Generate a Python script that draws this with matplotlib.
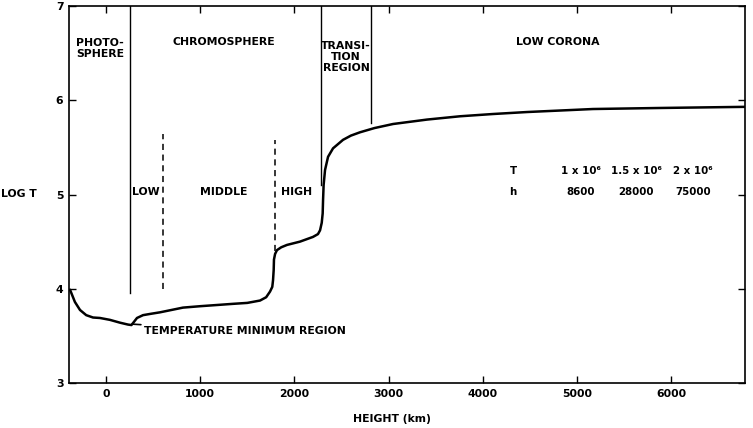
import matplotlib.pyplot as plt
import numpy as np

# temperature profile: height (km) vs log T
height = [-382, -330, -276, -210, -138, -64, 42, 149, 234, 270, 290, 329,
          393, 480, 573, 817, 1000, 1210, 1348, 1500, 1635, 1700, 1741, 1765,
          1773, 1780, 1783, 1795, 1815, 1860, 1921, 2059, 2197, 2250, 2272,
          2290, 2300, 2304, 2310, 2325, 2357, 2410, 2516, 2600, 2696, 2850,
          3047, 3408, 3758, 4108, 4469, 5170, 5881, 6783]
log_t = [3.99, 3.86, 3.775, 3.72, 3.695, 3.69, 3.67, 3.64, 3.62, 3.615,
         3.64, 3.69, 3.72, 3.735, 3.75, 3.80, 3.815, 3.83, 3.84, 3.85, 3.875,
         3.91, 3.97, 4.02, 4.09, 4.2, 4.31, 4.37, 4.41, 4.44, 4.465, 4.50,
         4.55, 4.58, 4.62, 4.70, 4.80, 4.94, 5.10, 5.26, 5.40, 5.49, 5.58,
         5.625, 5.66, 5.705, 5.748, 5.795, 5.83, 5.854, 5.875, 5.907, 5.918,
         5.93]

# boundary lines: (height, bottom, top)
solid_lines = [(255, 3.95, 7.0), (2282, 5.1, 7.0), (2815, 5.76, 7.0)]
dashed_lines = [(600, 4.0, 5.64), (1795, 4.4, 5.58)]

region_labels = ['PHOTO-\nSPHERE', 'CHROMOSPHERE', 'TRANSI-\nTION\nREGION', 'LOW CORONA']
region_x = [-64, 1253, 2548, 4798]
region_y = [6.55, 6.62, 6.46, 6.62]

sub_labels = ['LOW', 'MIDDLE', 'HIGH']
sub_x = [425, 1253, 2028]

table_t = ['T', '1 x 10\u2076', '1.5 x 10\u2076', '2 x 10\u2076']
table_h = ['h', '8600', '28000', '75000']
table_x = [4320, 5042, 5626, 6231]

fig = plt.figure(figsize=(7.53, 4.28), dpi=100)
ax = fig.add_axes([0.0916, 0.1051, 0.8978, 0.8809])

ax.plot(height, log_t, color='black', lw=1.8, solid_joinstyle='round',
        solid_capstyle='round')

for x, y0, y1 in solid_lines:
    ax.plot([x, x], [y0, y1], color='black', lw=1.0)
for x, y0, y1 in dashed_lines:
    ax.plot([x, x], [y0, y1], color='black', lw=1.1, linestyle=(0, (4, 3)))

font = dict(family='DejaVu Sans', fontweight='bold', fontsize=7.8)
for lab, x, y in zip(region_labels, region_x, region_y):
    ax.text(x, y, lab, ha='center', va='center', linespacing=1.1, **font)
for lab, x in zip(sub_labels, sub_x):
    ax.text(x, 5.03, lab, ha='center', va='center', **font)

tfont = dict(font, fontsize=7.4)
for lab, x in zip(table_t, table_x):
    ax.text(x, 5.25, lab, ha='center', va='center', **tfont)
for lab, x in zip(table_h, table_x):
    ax.text(x, 5.03, lab, ha='center', va='center', **tfont)

# temperature minimum pointer
ax.annotate('TEMPERATURE MINIMUM REGION', xy=(276, 3.625), xytext=(400, 3.55),
            ha='left', va='center',
            arrowprops=dict(arrowstyle='-', color='black', lw=1.2,
                            shrinkA=0, shrinkB=0), **font)

ax.set_xlim(-393, 6783)
ax.set_ylim(3, 7)
ax.set_xticks(np.arange(0, 7000, 1000))
ax.set_yticks([3, 4, 5, 6, 7])
ax.tick_params(direction='in', length=5, width=1.0, top=True, right=True,
               labelsize=7.8, pad=4)
for lbl in ax.get_xticklabels() + ax.get_yticklabels():
    lbl.set_fontweight('bold')
for s in ax.spines.values():
    s.set_linewidth(1.2)

ax.set_xlabel('HEIGHT (km)', fontsize=7.8, fontweight='bold')
ax.xaxis.set_label_coords(0.478, -0.082)
ax.set_ylabel('LOG T', rotation=0, fontsize=7.8, fontweight='bold', va='center')
ax.yaxis.set_label_coords(-0.074, 0.502)

fig.savefig('out.png', dpi=100)
